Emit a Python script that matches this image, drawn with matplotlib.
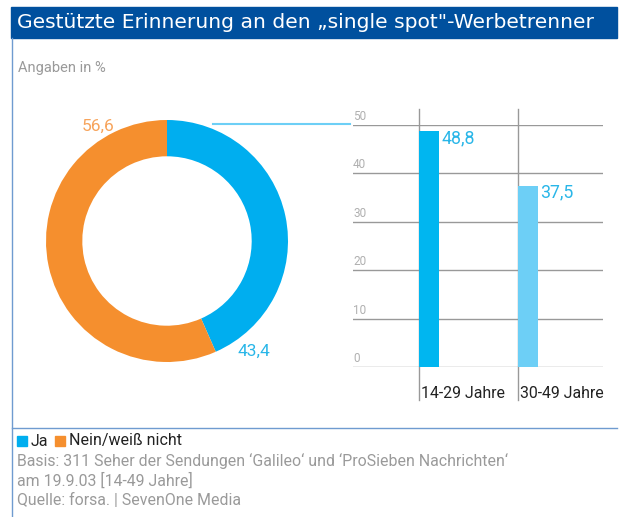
import matplotlib
matplotlib.use("Agg")
import matplotlib.pyplot as plt
import numpy as np
from matplotlib.patches import Rectangle
from matplotlib.lines import Line2D

plt.rcParams['font.family'] = ['Roboto', 'DejaVu Sans']

# data
donut_labels = ['Ja', 'Nein/weiß nicht']
donut_values = [43.4, 56.6]
donut_colors = ['#00aeef', '#f58f2e']

age_groups = ['14-29 Jahre', '30-49 Jahre']
ja_values = [48.8, 37.5]
bar_colors = ['#00b6f0', '#6dcff6']
y_ticks = [0, 10, 20, 30, 40, 50]

W, H = 629, 517
fig = plt.figure(figsize=(W / 100, H / 100), dpi=100)


def fx(x):
    return x / W


def fy(y):
    return 1 - y / H


# title bar and frame lines
fig.patches.append(Rectangle((fx(11), fy(38)), fx(617) - fx(11), fy(7) - fy(38),
                             transform=fig.transFigure, color='#00509e', zorder=0))
fig.text(fx(17), fy(23), 'Gestützte Erinnerung an den „single spot"-Werbetrenner',
         color='white', fontsize=14.6, va='center', ha='left', family=['DejaVu Sans'])
fig.lines.append(Line2D([fx(12), fx(12)], [fy(38), fy(517)], transform=fig.transFigure,
                        color='#6f9bd0', lw=1))
fig.lines.append(Line2D([fx(12), fx(617)], [fy(428), fy(428)], transform=fig.transFigure,
                        color='#6f9bd0', lw=1))
fig.text(fx(18), fy(68), 'Angaben in %', color='#9a9a9a', fontsize=10.5, va='center')

# donut
cx, cy, r = 167, 241, 121
ax1 = fig.add_axes([fx(cx - r), fy(cy + r), fx(2 * r), fy(0) - fy(2 * r)])
wedges, _ = ax1.pie(donut_values, colors=donut_colors, startangle=90, counterclock=False,
                    radius=1, wedgeprops=dict(width=0.3, linewidth=0))
ax1.set_xlim(-1, 1)
ax1.set_ylim(-1, 1)
ax1.set_aspect('equal')
ax1.axis('off')

# labels at the end of each wedge
ang_ja = np.deg2rad(wedges[0].theta1)
ax1.annotate('43,4', (np.cos(ang_ja), np.sin(ang_ja)), xytext=(22, 0), textcoords='offset pixels',
             color='#29b6e8', fontsize=12.5, ha='left', va='center')
ang_nein = np.deg2rad(wedges[1].theta1)
ax1.annotate('56,6', (np.cos(ang_nein), np.sin(ang_nein)), xytext=(-53, -6),
             textcoords='offset pixels', color='#f7a45c', fontsize=12.5, ha='right', va='center')

# connector line
fig.lines.append(Line2D([fx(213), fx(350)], [fy(124), fy(124)], transform=fig.transFigure,
                        color='#6dcff6', lw=1.5))

# bars
x0, x1 = 353, 603
y_top, y_bot = 125, 367
ax2 = fig.add_axes([fx(x0), fy(y_bot), fx(x1 - x0), fy(y_top) - fy(y_bot)])
step = 99
pos = [0, 1]
ax2.bar(pos, ja_values, width=20 / step, align='edge', color=bar_colors, zorder=3)
ax2.set_xlim(-66 / step, (x1 - x0 - 66) / step)
ax2.set_ylim(0, 50)
for t in y_ticks:
    ax2.axhline(t, color='#999999', lw=1, zorder=1)
    ax2.text(0.0, t + 0.4, str(t), transform=ax2.get_yaxis_transform(), color='#b0b0b0',
             fontsize=8.5, ha='left', va='bottom')
for p in pos:
    ax2.axvline(p, ymin=-33 / 242, ymax=258 / 242, color='#999999', lw=1, clip_on=False, zorder=2)
for p, v, lab in zip(pos, ja_values, age_groups):
    ax2.text(p + 22 / step, v - 1.5, f'{v:.1f}'.replace('.', ','), color='#29b6e8',
             fontsize=12.8, ha='left', va='center')
    ax2.text(p + 2 / step, -5.4, lab, color='#222222', fontsize=11.4, ha='left', va='center')
ax2.axis('off')

# legend and notes
fig.patches.append(Rectangle((fx(17), fy(446)), fx(10), fy(0) - fy(10),
                             transform=fig.transFigure, color=donut_colors[0]))
fig.text(fx(31), fy(441), donut_labels[0], color='#222222', fontsize=11.5, va='center')
fig.patches.append(Rectangle((fx(55), fy(446)), fx(10), fy(0) - fy(10),
                             transform=fig.transFigure, color=donut_colors[1]))
fig.text(fx(69), fy(441), donut_labels[1], color='#222222', fontsize=11.5, va='center')

notes = ["Basis: 311 Seher der Sendungen ‘Galileo‘ und ‘ProSieben Nachrichten‘",
         "am 19.9.03 [14-49 Jahre]",
         "Quelle: forsa. | SevenOne Media"]
for i, line in enumerate(notes):
    fig.text(fx(17), fy(461 + i * 19.5), line, color='#9a9a9a', fontsize=11.4, va='center')

fig.savefig('out.png', dpi=100)
